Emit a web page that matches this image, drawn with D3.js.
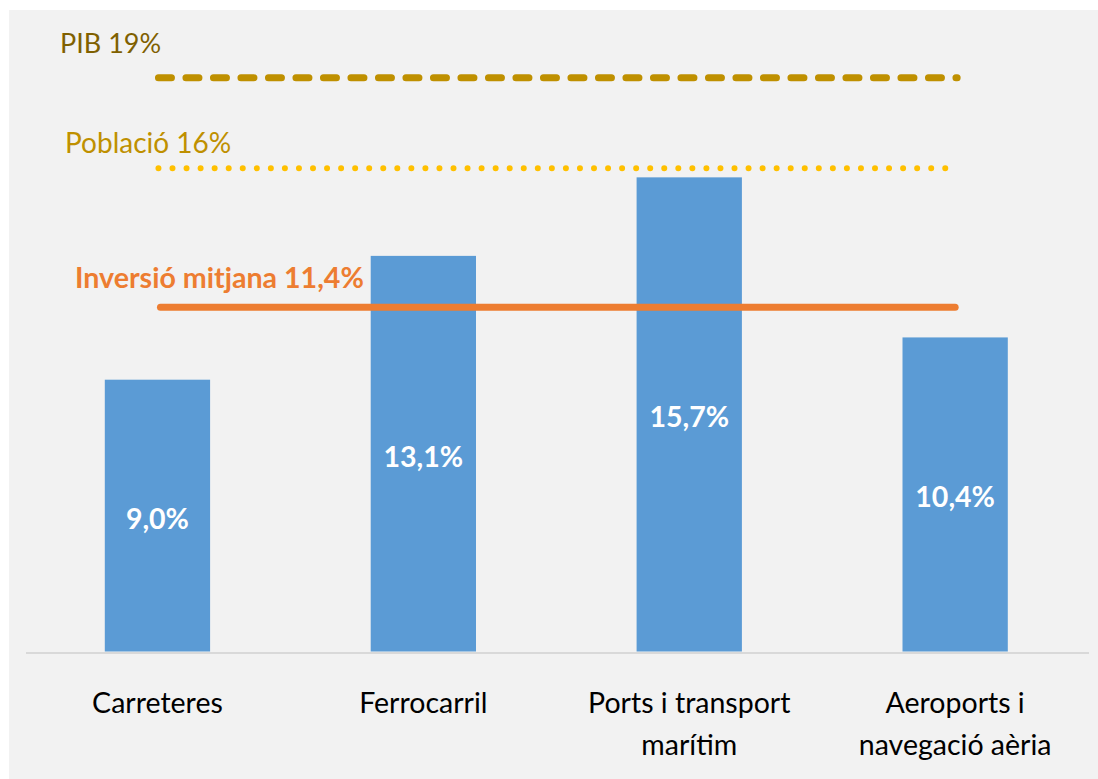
<!DOCTYPE html>
<html>
<head>
<meta charset="utf-8">
<script src="https://cdn.jsdelivr.net/npm/d3@7"></script>
<style>
  html, body { margin: 0; padding: 0; background: #ffffff; }
  svg { display: block; }
  text { font-family: Lato, "Open Sans", sans-serif; }
</style>
</head>
<body>
<div id="chart"></div>
<script>
// ---- Data ----
const categories = ["Carreteres", "Ferrocarril", "Ports i transport marítim", "Aeroports i navegació aèria"];
const categoryLines = [["Carreteres"], ["Ferrocarril"], ["Ports i transport", "marítim"], ["Aeroports i", "navegació aèria"]];
const values = [9.0, 13.1, 15.7, 10.4];
const valueLabels = ["9,0%", "13,1%", "15,7%", "10,4%"];
const refNames = ["PIB 19%", "Població 16%", "Inversió mitjana 11,4%"];
const refValues = [19, 16, 11.4];

// ---- Layout ----
const W = 1098, H = 779;
const svg = d3.select("#chart").append("svg").attr("width", W).attr("height", H);

svg.append("rect").attr("x", 9).attr("y", 10).attr("width", W - 9).attr("height", H - 10).attr("fill", "#f2f2f2");

const x = d3.scaleBand().domain(categories).range([24.5, 1088.1]).paddingInner(0.604).paddingOuter(0.302);
const y = d3.scaleLinear().domain([0, 20]).range([651.5, 47.5]);

// bars
svg.append("g").selectAll("rect").data(values).join("rect")
  .attr("x", (d, i) => x(categories[i]))
  .attr("y", d => y(d))
  .attr("width", x.bandwidth())
  .attr("height", d => y(0) - y(d))
  .attr("fill", "#5b9bd5");

// axis
const xAxis = d3.axisBottom(x).tickSize(0).tickFormat("");
const gx = svg.append("g").attr("transform", `translate(0,${y(0) + 1.5})`).call(xAxis);
gx.select(".domain").attr("stroke", "#d9d9d9").attr("stroke-width", 2).attr("d", "M26,0H1089");

// category labels
const catG = svg.append("g");
categoryLines.forEach((lines, i) => {
  const cx = x(categories[i]) + x.bandwidth() / 2;
  lines.forEach((ln, j) => {
    catG.append("text").attr("x", cx).attr("y", 713 + j * 42)
      .attr("text-anchor", "middle").attr("font-size", 28.5).attr("fill", "#000000")
      .text(ln);
  });
});

// value labels
svg.append("g").selectAll("text").data(values).join("text")
  .attr("x", (d, i) => x(categories[i]) + x.bandwidth() / 2)
  .attr("y", d => (y(d) + y(0)) / 2 + 13)
  .attr("text-anchor", "middle").attr("font-size", 28.5).attr("font-weight", "bold")
  .attr("fill", "#ffffff")
  .text((d, i) => valueLabels[i]);

// reference lines
const x0 = x(categories[0]) + x.bandwidth() / 2 + 1;
const x1 = x(categories[3]) + x.bandwidth() / 2;
const line = d3.line().x(d => d[0]).y(d => d[1]);
// PIB dashed
svg.append("path").attr("d", line([[x0, y(refValues[0])], [x1 + 2, y(refValues[0])]]))
  .attr("stroke", "#bf9000").attr("stroke-width", 7).attr("stroke-linecap", "round")
  .attr("stroke-dasharray", "13 14.5").attr("fill", "none");
// Població dotted
svg.append("path").attr("d", line([[x0, y(refValues[1])], [x1 - 8, y(refValues[1])]]))
  .attr("stroke", "#ffc000").attr("stroke-width", 6).attr("stroke-linecap", "round")
  .attr("stroke-dasharray", "0 14.05").attr("fill", "none");
// Inversió solid
svg.append("path").attr("d", line([[x0 + 2, y(refValues[2])], [x1, y(refValues[2])]]))
  .attr("stroke", "#ed7d31").attr("stroke-width", 7).attr("stroke-linecap", "round").attr("fill", "none");

// reference labels
svg.append("text").attr("x", 60).attr("y", 53).attr("font-size", 27).attr("fill", "#7f6000").text(refNames[0]);
svg.append("text").attr("x", 65).attr("y", 153).attr("font-size", 28).attr("fill", "#bf9000").text(refNames[1]);
svg.append("text").attr("x", 75).attr("y", 288).attr("font-size", 28.6).attr("font-weight", "bold").attr("fill", "#ed7d31").text(refNames[2]);
</script>
</body>
</html>
